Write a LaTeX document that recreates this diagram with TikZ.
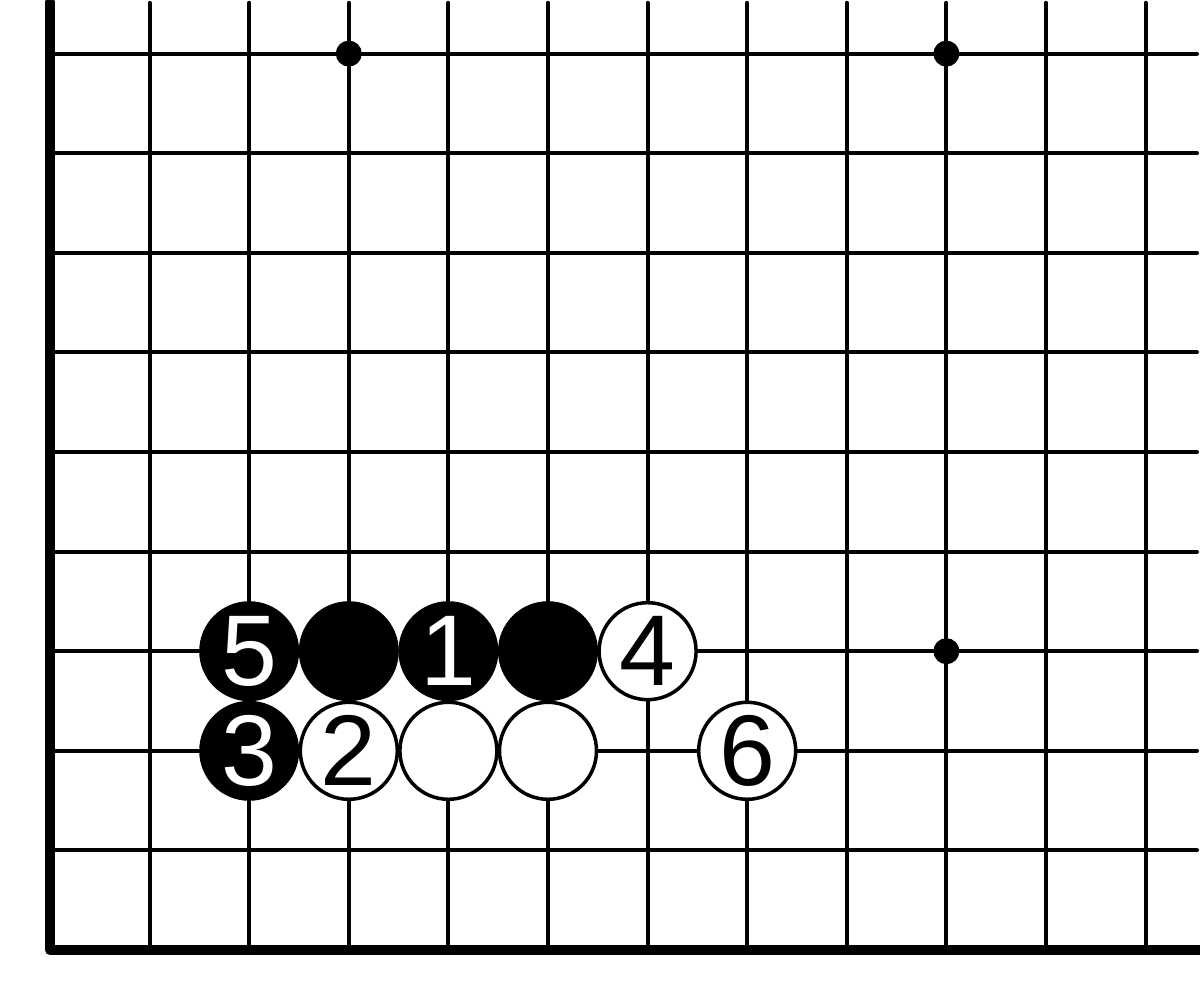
\documentclass[tikz,border=0pt]{standalone}
\usepackage{fontspec}
\setmainfont{Liberation Sans}
\usepackage{tikz}

\tikzset{
  gridline/.style={line width=1.14pt, line cap=round},
  edgeline/.style={line width=2.85pt, line cap=round, line join=round},
  hoshi/.style={circle, fill=black, inner sep=0pt, minimum size=0.26cm},
  bstone/.style={circle, fill=black, text=white, inner sep=0pt, minimum size=1.0cm,
    font=\fontsize{28.6}{28.6}\selectfont},
  wstone/.style={circle, draw=black, fill=white, line width=1.0pt, inner sep=0pt,
    minimum size=0.97cm, font=\fontsize{28.6}{28.6}\selectfont}
}

\begin{document}
\begin{tikzpicture}[x=0.996cm,y=0.996cm]
\useasboundingbox (-0.5cm,-0.54cm) rectangle (11.5cm,9.5cm);
\foreach \i in {1,...,11} \draw[gridline] (\i,0) -- (\i,9.51);
\foreach \j in {1,...,9} \draw[gridline] (0,\j) -- (11.516,\j);
\draw[edgeline] (0,9.52) -- (0,0) -- (11.6,0);
\node[hoshi] (H1) at (3,9) {};
\node[hoshi] (H2) at (9,9) {};
\node[hoshi] (H3) at (9,3) {};
\node[bstone] (B5) at (2,3) {5};
\node[bstone] (B0a) at (3,3) {};
\node[bstone] (B1) at (4,3) {1};
\node[bstone] (B0b) at (5,3) {};
\node[wstone] (W4) at (6,3) {4};
\node[bstone] (B3) at (2,2) {3};
\node[wstone] (W2) at (3,2) {2};
\node[wstone] (W0a) at (4,2) {};
\node[wstone] (W0b) at (5,2) {};
\node[wstone] (W6) at (7,2) {6};
\end{tikzpicture}
\end{document}
